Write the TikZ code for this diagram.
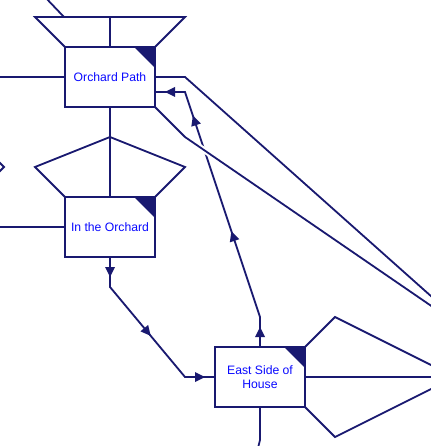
\documentclass[tikz,border=0pt]{standalone}
\usepackage{fontspec}
\setmainfont{Liberation Sans}
\usetikzlibrary{calc,positioning,decorations.markings}
\definecolor{midnight}{RGB}{25,25,112}
\definecolor{labelblue}{RGB}{10,10,255}

\begin{document}
\begin{tikzpicture}[x=1pt,y=-1pt,node distance=90pt]
  \tikzset{
    link/.style={draw=midnight,line width=1.8pt},
    place/.style={link,fill=white,minimum width=90pt,minimum height=60pt,
                  inner sep=2pt,outer sep=0pt,align=center,text=labelblue,
                  font=\fontsize{12.2}{14}\selectfont,
                  path picture={\fill[midnight] (path picture bounding box.north east)
                    -- ++(-21pt,0pt) -- ++(21pt,-21pt) -- cycle;}},
    midarr/.style={postaction={decorate},decoration={markings,
                   mark=at position #1 with {\fill[midnight] (5pt,0pt) -- (-5pt,5pt) -- (-5pt,-5pt) -- cycle;}}},
    midarr/.default=0.5
  }
  \useasboundingbox (0,0) rectangle (430,446);
  \node[place] (op) at (110,77) {Orchard Path};
  \node[place,below=of op] (inorch) {In the Orchard};
  \node[place,below right=90pt and 60pt of inorch] (esh) {East Side of\\House};

  \draw[link] (op.north west) -- ++(-30,-30) -- ++(150,0) -- (op.north east);
  \draw[link] (op.north) -- ++(0,-30);
  \draw[link] ($(op.north)+(-46,-30)$) -- ++(-20,-21);
  \draw[link] (op.west) -- ++(-80,0);
  \draw[link] (op.south) -- (inorch.north);
  \draw[link] (inorch.north west) -- ++(-30,-30) -- ($(inorch.north)+(0,-60)$)
    -- ($(inorch.north east)+(30,-30)$) -- (inorch.north east);
  \draw[link] (inorch.west) -- ++(-80,0);
  \draw[link] (-6,157) -- (4,167) -- (-6,177);

  \coordinate (tip) at ($(esh.east)+(150,0)$);
  \draw[link] (esh.north east) -- ++(30,-30) -- (tip) -- ($(esh.south east)+(30,30)$) -- (esh.south east);
  \draw[link] (esh.east) -- (tip);
  \draw[link] (esh.south) -- ++(0,33) -- ++(-3,12);

  \coordinate (far) at (478,338);
  \draw[link] (op.east) -- ++(30,0) -- (far);

  \coordinate (r1) at ($(esh.north)+(0,-30)$);
  \coordinate (r2) at ($(op.east)+(30,15)$);
  \coordinate (opin) at ($(op.east)+(0,15)$);
  \draw[link] (esh.north) -- (r1) -- (r2) -- (opin);
  \path[midarr] (esh.north) -- (r1);
  \path[midarr=0.36] (r1) -- (r2);
  \path[midarr=0.874] (r1) -- (r2);
  \path[midarr] (r2) -- (opin);

  \draw[link,preaction={draw=white,line width=6pt,shorten <=12pt}]
    (op.south east) -- ++(30,30) -- (far);

  \coordinate (b1) at ($(inorch.south)+(0,30)$);
  \coordinate (b2) at ($(esh.west)+(-30,0)$);
  \draw[link] (inorch.south) -- (b1) -- (b2) -- (esh.west);
  \foreach \a/\b in {inorch.south/b1,b1/b2,b2/esh.west}
    \path[midarr] (\a) -- (\b);
\end{tikzpicture}
\end{document}
